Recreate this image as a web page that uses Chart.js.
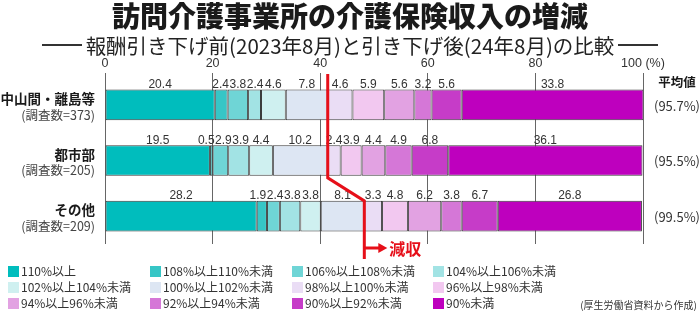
<!DOCTYPE html>
<html><head><meta charset="utf-8">
<script src="https://cdn.jsdelivr.net/npm/chart.js@4.4.1/dist/chart.umd.min.js"></script>
<style>
body{margin:0;background:#fff;}
#wrap{position:relative;width:700px;height:315px;overflow:hidden;font-family:"Noto Sans CJK JP","Noto Sans",sans-serif;color:#1a1a1a;}
#c{position:absolute;left:0;top:0;}
#title{position:absolute;top:0;left:0;width:700px;text-align:center;font-size:28px;font-weight:900;line-height:30px;}
#sub{position:absolute;top:33px;left:0;width:700px;display:flex;justify-content:center;align-items:center;font-size:20.5px;line-height:24px;color:#222;}
#sub .dash{width:40px;height:1.5px;background:#333;margin:0 4px;}
.leg{position:absolute;font-size:12px;line-height:14px;display:flex;align-items:center;white-space:nowrap;color:#333;}
.leg i{display:inline-block;width:11px;height:11px;margin-right:2px;}
#src{position:absolute;right:3px;top:299px;font-size:10px;line-height:12px;color:#333;}
</style>
</head><body>
<div id="wrap">
<canvas id="c" width="700" height="315"></canvas>
<div id="title">訪問介護事業所の介護保険収入の増減</div>
<div id="sub"><span class="dash"></span><span>報酬引き下げ前(2023年8月)と引き下げ後(24年8月)の比較</span><span class="dash"></span></div>
<div id="legend"></div>
<div id="src">(厚生労働省資料から作成)</div>
</div>
<script>
// ---- data ----
const categories = ['中山間・離島等', '都市部', 'その他'];
const surveyCounts = ['(調査数=373)', '(調査数=205)', '(調査数=209)'];
const averages = ['(95.7%)', '(95.5%)', '(99.5%)'];
const averageTitle = '平均値';
const xTicks = [0, 20, 40, 60, 80, 100];
const bandLabels = ['110%以上', '108%以上110%未満', '106%以上108%未満', '104%以上106%未満',
  '102%以上104%未満', '100%以上102%未満', '98%以上100%未満', '96%以上98%未満',
  '94%以上96%未満', '92%以上94%未満', '90%以上92%未満', '90%未満'];
const s110plus = [20.4, 19.5, 28.2];
const s108to110 = [2.4, 0.5, 1.9];
const s106to108 = [3.8, 2.9, 2.4];
const s104to106 = [2.4, 3.9, 3.8];
const s102to104 = [4.6, 4.4, 3.8];
const s100to102 = [7.8, 10.2, 8.1];
const s98to100 = [4.6, 2.4, 3.3];
const s96to98 = [5.9, 3.9, 4.8];
const s94to96 = [5.6, 4.4, 6.2];
const s92to94 = [3.2, 4.9, 3.8];
const s90to92 = [5.6, 6.8, 6.7];
const sUnder90 = [33.8, 36.1, 26.8];
const series = [s110plus, s108to110, s106to108, s104to106, s102to104, s100to102,
  s98to100, s96to98, s94to96, s92to94, s90to92, sUnder90];
const increaseBandCount = 6; // bands at or above 100%
const decreaseLabel = '減収';

const bandColors = ['#00BDBD', '#36C6C6', '#6FD5D6', '#A2E3E4', '#CFF0F0', '#DDE6F3',
  '#EADDF5', '#F2C8F0', '#E2A2E2', '#D577D7', '#C63CC8', '#BE00BE'];

const FONT = '"Noto Sans CJK JP","Noto Sans",sans-serif';
const NUMFONT = '"Liberation Sans Narrow","Liberation Sans",Arial,sans-serif';
Chart.defaults.font.family = FONT;

// ---- legend (HTML) ----
const legCols = [8, 150, 292, 433], legRows = [264, 280, 296];
const legEl = document.getElementById('legend');
bandLabels.forEach((lab, i) => {
  const d = document.createElement('div');
  d.className = 'leg';
  d.style.left = legCols[i % 4] + 'px';
  d.style.top = legRows[Math.floor(i / 4)] + 'px';
  d.innerHTML = '<i style="background:' + bandColors[i] + '"></i><span></span>';
  d.querySelector('span').textContent = lab;
  legEl.appendChild(d);
});

// ---- decoration plugin ----
const decor = {
  id: 'decor',
  afterDatasetsDraw(chart) {
    const ctx = chart.ctx;
    const xs = chart.scales.x;
    const area = chart.chartArea;
    ctx.save();
    // value labels
    ctx.font = '12px ' + NUMFONT;
    ctx.fillStyle = '#333';
    ctx.textAlign = 'center';
    ctx.textBaseline = 'alphabetic';
    const rowGeo = [];
    for (let r = 0; r < categories.length; r++) {
      const items = [];
      let top = 0, bottom = 0, cy = 0;
      series.forEach((s, d) => {
        const el = chart.getDatasetMeta(d).data[r];
        const t = s[r].toFixed(1);
        items.push({ x: (el.x + el.base) / 2, w: ctx.measureText(t).width, t });
        top = el.y - el.height / 2; bottom = el.y + el.height / 2; cy = el.y;
      });
      for (let it = 0; it < 30; it++) {
        for (let i = 1; i < items.length; i++) {
          const a = items[i - 1], b = items[i];
          const gap = (b.x - b.w / 2) - (a.x + a.w / 2);
          if (gap < 0.5) { const sh = (0.5 - gap) / 2; a.x -= sh; b.x += sh; }
        }
      }
      items.forEach(o => ctx.fillText(o.t, o.x, top - 1.5));
      rowGeo.push({ top, bottom, cy });
    }
    // category labels
    ctx.textAlign = 'right';
    ctx.textBaseline = 'middle';
    rowGeo.forEach((g, r) => {
      ctx.fillStyle = '#1a1a1a';
      ctx.font = 'bold 13.5px ' + FONT;
      ctx.fillText(categories[r], 95, g.cy - 6);
      ctx.fillStyle = '#444';
      ctx.font = '12.5px ' + FONT;
      ctx.fillText(surveyCounts[r], 95, g.cy + 10);
    });
    // averages
    ctx.textAlign = 'center';
    ctx.fillStyle = '#1a1a1a';
    ctx.font = 'bold 12.5px ' + FONT;
    ctx.fillText(averageTitle, 677, rowGeo[0].top - 7);
    ctx.font = '13px ' + FONT;
    ctx.fillStyle = '#333';
    rowGeo.forEach((g, r) => ctx.fillText(averages[r], 677, g.cy + 1));
    // red boundary line between >=100% and <100%
    const cum = categories.map((_, r) => {
      let s = 0; for (let d = 0; d < increaseBandCount; d++) s += series[d][r]; return s;
    });
    const px = cum.map(v => xs.getPixelForValue(v));
    ctx.strokeStyle = '#E60F19';
    ctx.lineWidth = 3;
    ctx.lineJoin = 'miter';
    ctx.beginPath();
    ctx.moveTo(px[0], area.top - 3);
    rowGeo.forEach((g, r) => {
      ctx.lineTo(px[r], g.top);
      ctx.lineTo(px[r], g.bottom + (r < rowGeo.length - 1 ? 2 : 0));
    });
    const last = px[px.length - 1];
    const endY = area.bottom + 15;
    ctx.lineTo(last, endY);
    ctx.stroke();
    // arrow
    const ay = area.bottom + 4;
    ctx.beginPath();
    ctx.moveTo(last, ay);
    ctx.lineTo(last + 15, ay);
    ctx.stroke();
    ctx.fillStyle = '#E60F19';
    ctx.beginPath();
    ctx.moveTo(last + 14, ay - 5);
    ctx.lineTo(last + 23, ay);
    ctx.lineTo(last + 14, ay + 5);
    ctx.closePath();
    ctx.fill();
    ctx.font = 'bold 16px ' + FONT;
    ctx.textAlign = 'left';
    ctx.fillText(decreaseLabel, last + 25, ay + 1);
    ctx.restore();
  }
};

new Chart(document.getElementById('c'), {
  type: 'bar',
  data: {
    labels: categories,
    datasets: series.map((s, i) => ({
      label: bandLabels[i], data: s, backgroundColor: bandColors[i],
      borderColor: '#3a3a3a', borderWidth: 1, borderSkipped: false,
      categoryPercentage: 1, barPercentage: 0.55
    }))
  },
  options: {
    indexAxis: 'y', responsive: false, animation: false, devicePixelRatio: 1,
    layout: { padding: { left: 105, right: 57, top: 54, bottom: 71 } },
    plugins: { legend: { display: false }, tooltip: { enabled: false } },
    scales: {
      x: {
        stacked: true, position: 'top', min: 0, max: 100,
        afterBuildTicks: axis => { axis.ticks = xTicks.map(v => ({ value: v })); },
        ticks: {
          padding: 2, color: '#333', font: { size: 12.5, family: NUMFONT },
          callback: v => v === 100 ? '100 (%)' : String(v), maxRotation: 0
        },
        grid: { color: '#666', tickLength: 4, lineWidth: 1 },
        border: { display: false }
      },
      y: { stacked: true, display: false }
    }
  },
  plugins: [decor]
});
</script>
</body></html>
